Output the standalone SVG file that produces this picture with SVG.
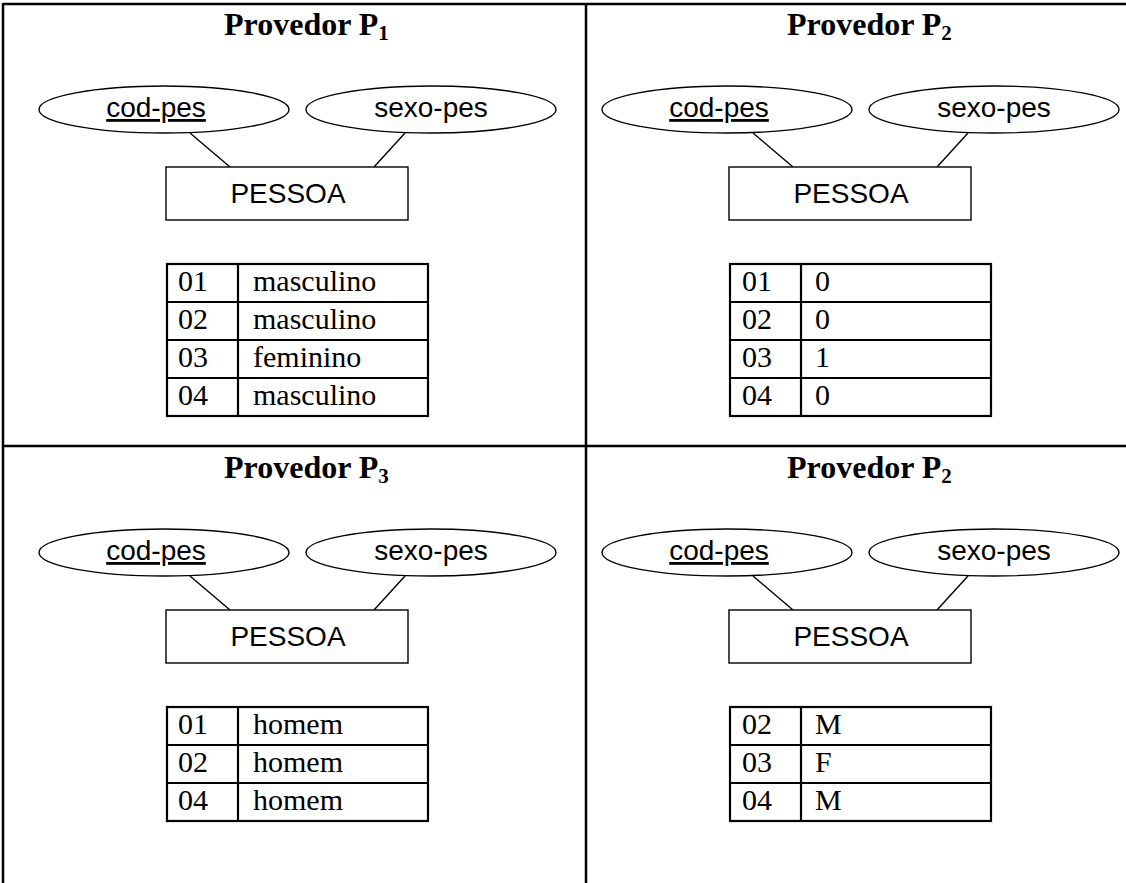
<svg xmlns="http://www.w3.org/2000/svg" width="1126" height="883" viewBox="0 0 1126 883">
<style>
.frame{stroke:#000;stroke-width:2.5;fill:none}
.ttl{font-family:"Liberation Serif","Times New Roman",serif;font-weight:bold;font-size:32px;fill:#000}
.sub{font-size:21px}
.ell{fill:#fff;stroke:#000;stroke-width:1.4}
.ent{fill:#fff;stroke:#000;stroke-width:1.4}
.lbl{font-family:"Liberation Sans",Arial,sans-serif;font-size:28px;fill:#000;text-anchor:middle}
.conn{stroke:#000;stroke-width:1.4;fill:none}
.tbl{fill:none;stroke:#000;stroke-width:2.2}
.cell{font-family:"Liberation Serif","Times New Roman",serif;font-size:30px;fill:#000}
</style>
<g id="frame">
<line class="frame" x1="3" y1="4" x2="1126" y2="4"/>
<line class="frame" x1="3" y1="3" x2="3" y2="883"/>
<line class="frame" x1="586" y1="4" x2="586" y2="883"/>
<line class="frame" x1="3" y1="446" x2="1126" y2="446"/>
</g>
<g id="titles">
<text class="ttl" x="224" y="35">Provedor P<tspan class="sub" dy="5">1</tspan></text>
<text class="ttl" x="787" y="35">Provedor P<tspan class="sub" dy="5">2</tspan></text>
<text class="ttl" x="224" y="478">Provedor P<tspan class="sub" dy="5">3</tspan></text>
<text class="ttl" x="787" y="478">Provedor P<tspan class="sub" dy="5">2</tspan></text>
</g>
<g id="connectors">
<line class="conn" x1="190" y1="133" x2="230" y2="167"/>
<line class="conn" x1="405" y1="133" x2="374" y2="167"/>
<line class="conn" x1="753" y1="133" x2="793" y2="167"/>
<line class="conn" x1="968" y1="133" x2="937" y2="167"/>
<line class="conn" x1="190" y1="576" x2="230" y2="610"/>
<line class="conn" x1="405" y1="576" x2="374" y2="610"/>
<line class="conn" x1="753" y1="576" x2="793" y2="610"/>
<line class="conn" x1="968" y1="576" x2="937" y2="610"/>
</g>
<g id="p1-cod"><ellipse class="ell" cx="164" cy="109.5" rx="125" ry="23.5"/><text class="lbl" x="156" y="117" text-decoration="underline">cod-pes</text></g>
<g id="p1-sexo"><ellipse class="ell" cx="431" cy="109.5" rx="125" ry="23.5"/><text class="lbl" x="431" y="117">sexo-pes</text></g>
<g id="p1-pessoa"><rect class="ent" x="166" y="167" width="242" height="53"/><text class="lbl" x="288" y="203">PESSOA</text></g>
<g id="p2-cod"><ellipse class="ell" cx="727" cy="109.5" rx="125" ry="23.5"/><text class="lbl" x="719" y="117" text-decoration="underline">cod-pes</text></g>
<g id="p2-sexo"><ellipse class="ell" cx="994" cy="109.5" rx="125" ry="23.5"/><text class="lbl" x="994" y="117">sexo-pes</text></g>
<g id="p2-pessoa"><rect class="ent" x="729" y="167" width="242" height="53"/><text class="lbl" x="851" y="203">PESSOA</text></g>
<g id="p3-cod"><ellipse class="ell" cx="164" cy="552.5" rx="125" ry="23.5"/><text class="lbl" x="156" y="560" text-decoration="underline">cod-pes</text></g>
<g id="p3-sexo"><ellipse class="ell" cx="431" cy="552.5" rx="125" ry="23.5"/><text class="lbl" x="431" y="560">sexo-pes</text></g>
<g id="p3-pessoa"><rect class="ent" x="166" y="610" width="242" height="53"/><text class="lbl" x="288" y="646">PESSOA</text></g>
<g id="p4-cod"><ellipse class="ell" cx="727" cy="552.5" rx="125" ry="23.5"/><text class="lbl" x="719" y="560" text-decoration="underline">cod-pes</text></g>
<g id="p4-sexo"><ellipse class="ell" cx="994" cy="552.5" rx="125" ry="23.5"/><text class="lbl" x="994" y="560">sexo-pes</text></g>
<g id="p4-pessoa"><rect class="ent" x="729" y="610" width="242" height="53"/><text class="lbl" x="851" y="646">PESSOA</text></g>
<g id="table-p1">
<rect class="tbl" x="167" y="264" width="261" height="152"/>
<line class="tbl" x1="238" y1="264" x2="238" y2="416"/>
<line class="tbl" x1="167" y1="302" x2="428" y2="302"/>
<line class="tbl" x1="167" y1="340" x2="428" y2="340"/>
<line class="tbl" x1="167" y1="378" x2="428" y2="378"/>
<text class="cell" x="178" y="291">01</text><text class="cell" x="253" y="291">masculino</text>
<text class="cell" x="178" y="329">02</text><text class="cell" x="253" y="329">masculino</text>
<text class="cell" x="178" y="367">03</text><text class="cell" x="253" y="367">feminino</text>
<text class="cell" x="178" y="405">04</text><text class="cell" x="253" y="405">masculino</text>
</g>
<g id="table-p2">
<rect class="tbl" x="730" y="264" width="261" height="152"/>
<line class="tbl" x1="801" y1="264" x2="801" y2="416"/>
<line class="tbl" x1="730" y1="302" x2="991" y2="302"/>
<line class="tbl" x1="730" y1="340" x2="991" y2="340"/>
<line class="tbl" x1="730" y1="378" x2="991" y2="378"/>
<text class="cell" x="742" y="291">01</text><text class="cell" x="815" y="291">0</text>
<text class="cell" x="742" y="329">02</text><text class="cell" x="815" y="329">0</text>
<text class="cell" x="742" y="367">03</text><text class="cell" x="815" y="367">1</text>
<text class="cell" x="742" y="405">04</text><text class="cell" x="815" y="405">0</text>
</g>
<g id="table-p3">
<rect class="tbl" x="167" y="707" width="261" height="114"/>
<line class="tbl" x1="238" y1="707" x2="238" y2="821"/>
<line class="tbl" x1="167" y1="745" x2="428" y2="745"/>
<line class="tbl" x1="167" y1="783" x2="428" y2="783"/>
<text class="cell" x="178" y="734">01</text><text class="cell" x="253" y="734">homem</text>
<text class="cell" x="178" y="772">02</text><text class="cell" x="253" y="772">homem</text>
<text class="cell" x="178" y="810">04</text><text class="cell" x="253" y="810">homem</text>
</g>
<g id="table-p4">
<rect class="tbl" x="730" y="707" width="261" height="114"/>
<line class="tbl" x1="801" y1="707" x2="801" y2="821"/>
<line class="tbl" x1="730" y1="745" x2="991" y2="745"/>
<line class="tbl" x1="730" y1="783" x2="991" y2="783"/>
<text class="cell" x="742" y="734">02</text><text class="cell" x="815" y="734">M</text>
<text class="cell" x="742" y="772">03</text><text class="cell" x="815" y="772">F</text>
<text class="cell" x="742" y="810">04</text><text class="cell" x="815" y="810">M</text>
</g>
</svg>
